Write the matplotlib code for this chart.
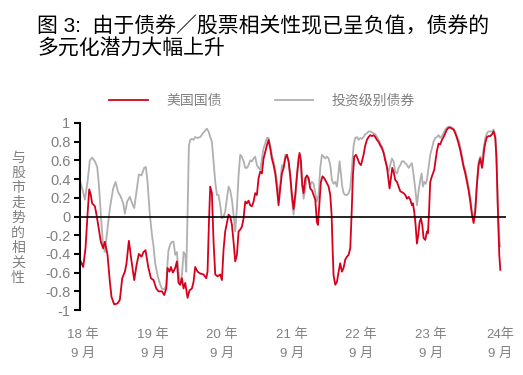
import matplotlib
matplotlib.use("Agg")
import matplotlib.pyplot as plt

plt.rcParams['font.family'] = ['Liberation Sans', 'Noto Sans CJK SC', 'DejaVu Sans']

# months since Sep 2018 / rolling correlation with equities
ust_x = [-0.5, 0.0, 0.4, 0.75, 1.04, 1.32, 1.55, 2.02, 2.30, 2.71, 3.05, 3.45, 3.74, 4.20, 4.61, 4.89,
         5.35, 5.93, 6.33, 6.74, 7.20, 7.48, 7.89, 8.35, 8.81, 9.21, 9.61, 10.07, 10.42, 10.76, 11.23, 11.69,
         12.15, 12.61, 13.01, 13.59, 13.99, 14.34, 14.56, 14.91, 15.14, 15.49, 15.89, 16.18, 16.46, 16.75,
         17.04, 17.33, 17.62, 18.02, 18.36, 18.77, 19.05, 19.34, 19.75, 20.21, 20.78, 21.24, 21.47, 21.70,
         21.93, 22.22, 22.51, 22.80, 23.20, 23.66, 23.95,
         24.24, 24.52, 24.81, 25.10, 25.39, 25.68, 25.96, 26.25, 26.54, 26.83, 27.11, 27.40, 27.69, 27.98,
         28.27, 28.55, 28.84, 29.13, 29.42, 29.70, 29.99, 30.28, 30.57, 30.86, 31.14, 31.43, 31.72, 32.01,
         32.29, 32.58, 32.87, 33.16, 33.45, 33.73, 34.02, 34.31, 34.60, 34.89, 35.17, 35.46, 35.75,
         36.04, 36.32, 36.61, 36.90, 37.19, 37.36, 37.59, 37.82, 38.05, 38.34, 38.63, 38.92, 39.20, 39.49,
         39.78, 40.07, 40.35, 40.53, 40.76, 41.04, 41.33, 41.62, 41.97, 42.37, 42.66, 42.89, 43.06, 43.23,
         43.52, 43.81, 44.10, 44.38, 44.67, 44.96, 45.25, 45.54, 45.82, 46.11, 46.34, 46.57, 46.80, 47.09,
         47.38, 47.67, 47.96,
         48.41, 48.70, 48.99, 49.27, 49.56, 49.85, 50.14, 50.43, 50.71, 51.00, 51.29, 51.58, 51.87, 52.15,
         52.44, 52.73, 52.90, 53.13, 53.36, 53.59, 53.88, 54.17, 54.46, 54.75, 55.03, 55.32, 55.61, 55.90,
         56.19, 56.47, 56.76, 56.93, 57.16, 57.39, 57.62, 57.85, 58.08, 58.31, 58.54, 58.77, 59.06, 59.35,
         59.52, 59.69, 59.92, 60.21,
         60.61, 61.07, 61.36, 61.65, 61.94, 62.22, 62.51, 62.80, 63.09, 63.38, 63.66, 63.95, 64.24, 64.53,
         64.81, 65.10, 65.39, 65.68, 65.97, 66.25, 66.54, 66.83, 67.12, 67.41, 67.69, 67.98, 68.27, 68.56,
         68.85, 69.02, 69.25, 69.48, 69.71, 70.00, 70.29, 70.58, 70.86, 71.15, 71.32, 71.50, 71.67, 71.84, 72.02]
ust_y = [-0.47, -0.54, -0.34, 0.02, 0.29, 0.23, 0.14, 0.11, 0.02, -0.14, -0.27, -0.34, -0.27, -0.41, -0.70, -0.86,
         -0.94, -0.93, -0.89, -0.66, -0.59, -0.50, -0.26, -0.48, -0.68, -0.52, -0.40, -0.43, -0.38, -0.36, -0.54, -0.66,
         -0.68, -0.77, -0.80, -0.80, -0.84, -0.77, -0.55, -0.59, -0.54, -0.60, -0.55, -0.48, -0.71, -0.73,
         -0.66, -0.77, -0.71, -0.87, -0.79, -0.77, -0.70, -0.54, -0.59, -0.61, -0.62, -0.66, -0.59, -0.09,
         0.32, 0.25, -0.27, -0.62, -0.64, -0.62, -0.68,
         -0.35, -0.16, -0.07, 0.02, 0.00, -0.09, -0.27, -0.48, -0.41, -0.16, -0.14, -0.11, -0.02, 0.16,
         0.14, 0.17, 0.12, 0.11, 0.16, 0.25, 0.23, 0.41, 0.48, 0.46, 0.62, 0.69, 0.76, 0.82,
         0.73, 0.62, 0.55, 0.46, 0.30, 0.12, 0.30, 0.46, 0.52, 0.62, 0.66, 0.59, 0.44,
         0.23, 0.08, 0.23, 0.44, 0.62, 0.68, 0.60, 0.34, 0.25, 0.41, 0.44, 0.41, 0.30, 0.28,
         0.23, 0.18, -0.06, -0.09, 0.12, 0.37, 0.43, 0.41, 0.37, 0.32, 0.23, 0.02, -0.34, -0.63,
         -0.73, -0.70, -0.59, -0.50, -0.59, -0.55, -0.46, -0.43, -0.41, -0.34, 0.02, 0.44, 0.64, 0.66,
         0.62, 0.57, 0.55,
         0.66, 0.76, 0.82, 0.85, 0.87, 0.86, 0.87, 0.85, 0.82, 0.80, 0.76, 0.73, 0.68, 0.60,
         0.53, 0.39, 0.30, 0.41, 0.52, 0.48, 0.39, 0.37, 0.32, 0.27, 0.26, 0.25, 0.23, 0.19,
         0.21, 0.18, 0.12, 0.14, 0.05, -0.09, -0.29, -0.20, -0.06, -0.02, -0.09, -0.23, -0.25, -0.16,
         -0.18, 0.02, 0.37, 0.43,
         0.50, 0.70, 0.78, 0.77, 0.82, 0.85, 0.89, 0.93, 0.95, 0.95, 0.94, 0.93, 0.89, 0.84,
         0.78, 0.71, 0.62, 0.53, 0.46, 0.37, 0.28, 0.16, 0.02, -0.07, 0.05, 0.34, 0.55, 0.62,
         0.52, 0.59, 0.73, 0.80, 0.85, 0.86, 0.86, 0.88, 0.91, 0.84, 0.66, 0.30, -0.09, -0.41, -0.57]

ig_x = [-0.5, -0.17, 0.29, 0.75, 1.15, 1.55, 2.02, 2.42, 2.71, 3.05, 3.45, 3.74, 4.20, 4.61, 5.18, 5.58,
        6.04, 6.50, 6.91, 7.20, 7.60, 8.06, 8.46, 8.81, 9.21, 9.61, 10.07, 10.53, 10.82, 11.11, 11.51, 11.92,
        12.15, 12.43, 12.81, 13.24, 13.59, 13.99, 14.34, 14.56, 14.73, 15.02, 15.31, 15.60, 15.89, 16.18,
        16.46, 16.75, 17.04, 17.33, 17.62, 17.79, 18.02, 18.25, 18.48, 18.77, 19.05, 19.34, 19.75, 20.21,
        20.67, 21.07, 21.36, 21.64, 21.93, 22.22, 22.51, 22.80, 23.09, 23.37, 23.66, 23.95, 24.24,
        24.52, 24.81, 25.10, 25.39, 25.68, 25.96, 26.25, 26.54, 26.83, 27.11, 27.40, 27.69, 27.98, 28.27,
        28.55, 28.84, 29.13, 29.42, 29.70, 29.99, 30.28, 30.57, 30.86, 31.14, 31.43, 31.72, 32.01, 32.29,
        32.58, 32.87, 33.16, 33.45, 33.73, 34.02, 34.31, 34.60, 34.89, 35.17, 35.46, 35.75,
        36.04, 36.32, 36.61, 36.90, 37.19, 37.48, 37.77, 38.05, 38.34, 38.63, 38.92, 39.20, 39.49, 39.78,
        40.07, 40.35, 40.64, 40.93, 41.22, 41.50, 41.79, 42.08, 42.37, 42.66, 42.94, 43.23, 43.52, 43.81,
        44.10, 44.27, 44.50, 44.73, 44.96, 45.25, 45.54, 45.82, 46.11, 46.40, 46.69, 46.97, 47.26, 47.55, 47.84,
        48.12, 48.41, 48.70, 48.99, 49.27, 49.56, 49.85, 50.14, 50.43, 50.71, 51.00, 51.29, 51.58, 51.87,
        52.15, 52.44, 52.73, 53.02, 53.30, 53.59, 53.88, 54.17, 54.46, 54.75, 55.03, 55.32, 55.61, 55.90,
        56.19, 56.47, 56.76, 57.05, 57.33, 57.62, 57.91, 58.20, 58.43, 58.66, 58.89, 59.12, 59.35, 59.63,
        59.92, 60.21, 60.50,
        60.78, 61.07, 61.36, 61.65, 61.94, 62.22, 62.51, 62.80, 63.09, 63.38, 63.66, 63.95, 64.24, 64.53,
        64.81, 65.10, 65.39, 65.68, 65.97, 66.25, 66.54, 66.83, 67.12, 67.41, 67.69, 67.98, 68.27, 68.56,
        68.85, 69.14, 69.43, 69.71, 70.00, 70.29, 70.58, 70.86, 71.15, 71.38, 71.55, 71.73, 71.90, 72.02]
ig_y = [0.37, 0.30, 0.18, 0.37, 0.60, 0.63, 0.59, 0.53, 0.34, 0.02, -0.32, -0.38, -0.13, 0.09, 0.30, 0.37,
        0.26, 0.21, 0.14, 0.03, 0.16, 0.21, 0.14, 0.09, 0.27, 0.45, 0.44, 0.52, 0.53, 0.37, 0.02, -0.22,
        -0.32, -0.50, -0.62, -0.72, -0.77, -0.78, -0.74, -0.50, -0.36, -0.30, -0.27, -0.27, -0.41, -0.38,
        -0.59, -0.73, -0.64, -0.38, -0.41, -0.59, 0.02, 0.76, 0.82, 0.83, 0.82, 0.85, 0.84, 0.85,
        0.89, 0.92, 0.94, 0.91, 0.85, 0.80, 0.59, 0.37, 0.23, 0.23, 0.12, -0.02, 0.00,
        0.05, 0.19, 0.32, 0.28, 0.18, 0.02, -0.16, 0.09, 0.44, 0.66, 0.64, 0.59, 0.52, 0.52,
        0.55, 0.60, 0.59, 0.62, 0.64, 0.55, 0.52, 0.50, 0.62, 0.73, 0.78, 0.84, 0.84, 0.76,
        0.66, 0.59, 0.50, 0.37, 0.23, 0.34, 0.55, 0.52, 0.66, 0.66, 0.59, 0.41,
        0.18, 0.02, 0.18, 0.41, 0.59, 0.60, 0.37, 0.19, 0.30, 0.43, 0.39, 0.34, 0.37, 0.35,
        0.25, 0.16, 0.23, 0.52, 0.66, 0.64, 0.62, 0.64, 0.62, 0.55, 0.39, 0.35, 0.37, 0.32,
        0.48, 0.59, 0.46, 0.32, 0.25, 0.23, 0.23, 0.25, 0.30, 0.52, 0.76, 0.84, 0.85, 0.82, 0.84,
        0.83, 0.85, 0.88, 0.89, 0.91, 0.91, 0.90, 0.89, 0.88, 0.85, 0.82, 0.78, 0.75, 0.69,
        0.62, 0.53, 0.48, 0.55, 0.62, 0.59, 0.48, 0.46, 0.52, 0.55, 0.59, 0.59, 0.57, 0.55,
        0.52, 0.55, 0.57, 0.44, 0.30, 0.12, 0.27, 0.39, 0.46, 0.32, 0.37, 0.35, 0.39, 0.52,
        0.66, 0.73, 0.80,
        0.84, 0.85, 0.87, 0.84, 0.86, 0.89, 0.93, 0.95, 0.96, 0.96, 0.95, 0.94, 0.91, 0.86,
        0.82, 0.75, 0.66, 0.55, 0.50, 0.41, 0.32, 0.21, 0.05, -0.02, 0.10, 0.37, 0.59, 0.64,
        0.59, 0.73, 0.84, 0.89, 0.91, 0.91, 0.91, 0.93, 0.87, 0.62, 0.16, -0.09, -0.27, -0.32]

tick_pos = [0, 12, 24, 36, 48, 60, 72]
tick_labels = ['18 年\n9 月', '19 年\n9 月', '20 年\n9 月', '21 年\n9 月',
               '22 年\n9 月', '23 年\n9 月', '24年\n9 月']
y_ticks = [-1, -0.8, -0.6, -0.4, -0.2, 0, 0.2, 0.4, 0.6, 0.8, 1]

RED = '#d6001c'
GRAY = '#b0b0b0'
TXT = '#808080'

fig = plt.figure(figsize=(5.23, 3.75), dpi=100)
ax = fig.add_axes([80 / 523, 1 - 310 / 375, 426 / 523, 187 / 375])

l_ig, = ax.plot(ig_x, ig_y, color=GRAY, lw=1.3, label='投资级别债券')
l_ust, = ax.plot(ust_x, ust_y, color=RED, lw=1.3, label='美国国债')
ax.axhline(0, color='black', lw=1.2, zorder=3)

ax.set_xlim(-0.55, 73.0)
ax.set_ylim(-1, 1)
ax.set_yticks(y_ticks)
ax.set_yticklabels(['{:g}'.format(v) for v in y_ticks])
ax.set_xticks(tick_pos)
ax.set_xticklabels(tick_labels, linespacing=1.75)

for s in ['top', 'right', 'bottom']:
    ax.spines[s].set_visible(False)
ax.spines['left'].set_linewidth(1.5)
ax.tick_params(axis='y', direction='out', length=4, width=1.5, colors='black',
               labelcolor=TXT, labelsize=10.5, pad=3)
ax.tick_params(axis='x', length=0, labelcolor=TXT, labelsize=9.5, pad=13)

fig.text(18 / 523, 1 - 218 / 375, '\n'.join('与股市走势的相关性'), color=TXT, fontsize=10,
         ha='center', va='center', linespacing=1.1)

fig.text(37 / 523, 1 - 16 / 375, '图 3:  由于债券／股票相关性现已呈负值，债券的\n多元化潜力大幅上升',
         fontsize=15, ha='left', va='top', linespacing=1.15)

fig.legend(handles=[l_ust, l_ig], loc='center', bbox_to_anchor=(262 / 523, 1 - 101 / 375),
           ncol=2, frameon=False, fontsize=10, handlelength=2.8, handletextpad=1.3,
           columnspacing=3.8, labelcolor=TXT)

fig.savefig('out.png', dpi=100)
